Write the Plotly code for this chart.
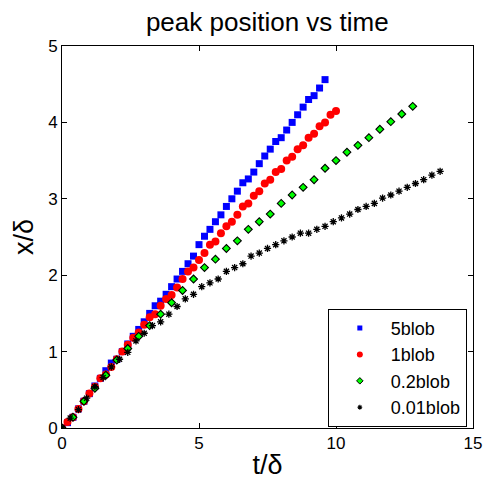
import plotly.graph_objects as go

# Peak position x/δ sampled against t/δ for each blob strength
t_5blob = [round(0.2 * k, 1) for k in range(49)]
x_5blob = [0, 0.07, 0.14, 0.25, 0.35, 0.45, 0.55, 0.65, 0.75, 0.85,
           0.90, 1.00, 1.10, 1.20, 1.29, 1.39, 1.50, 1.60, 1.66, 1.75,
           1.85, 1.95, 2.05, 2.15, 2.25, 2.40, 2.51, 2.60, 2.70, 2.79,
           2.90, 3.00, 3.10, 3.21, 3.26, 3.35, 3.46, 3.56, 3.65, 3.75,
           3.80, 3.90, 4.00, 4.10, 4.20, 4.30, 4.35, 4.45, 4.56]

t_1blob = [round(0.2 * k, 1) for k in range(51)]
x_1blob = [0, 0.08, 0.14, 0.25, 0.35, 0.45, 0.54, 0.65, 0.70, 0.80,
           0.90, 1.00, 1.09, 1.18, 1.25, 1.35, 1.45, 1.49, 1.60, 1.69,
           1.74, 1.84, 1.95, 2.05, 2.10, 2.20, 2.29, 2.40, 2.44, 2.55,
           2.64, 2.70, 2.79, 2.90, 2.94, 3.04, 3.10, 3.20, 3.25, 3.35,
           3.39, 3.50, 3.55, 3.65, 3.70, 3.80, 3.85, 3.95, 4.00, 4.10,
           4.15]

t_02blob = [round(0.4 * k, 1) for k in range(33)]
x_02blob = [0, 0.14, 0.35, 0.52, 0.69, 0.89, 1.04, 1.20, 1.34, 1.49,
            1.64, 1.80, 1.95, 2.10, 2.21, 2.35, 2.45, 2.60, 2.70, 2.80,
            2.94, 3.05, 3.15, 3.25, 3.40, 3.50, 3.61, 3.70, 3.80, 3.91,
            4.01, 4.11, 4.21]

t_001blob = [round(0.3 * k, 1) for k in range(47)]
x_001blob = [0, 0.13, 0.24, 0.39, 0.54, 0.66, 0.80, 0.90, 0.99, 1.14,
             1.24, 1.34, 1.39, 1.49, 1.59, 1.69, 1.75, 1.85, 1.90, 1.95,
             2.05, 2.10, 2.15, 2.25, 2.29, 2.35, 2.40, 2.45, 2.50, 2.55,
             2.55, 2.60, 2.64, 2.70, 2.75, 2.80, 2.86, 2.90, 2.94, 3.01,
             3.05, 3.10, 3.15, 3.20, 3.25, 3.31, 3.36]

x_ticks = [0, 5, 10, 15]
y_ticks = [0, 1, 2, 3, 4, 5]

FONT = "Liberation Sans, Arial, sans-serif"

series = [
    ("5blob", t_5blob, x_5blob,
     dict(symbol="square", size=7, color="#0000ff", line=dict(width=0)),
     dict(symbol="square", size=5, color="#0000ff", line=dict(width=0))),
    ("1blob", t_1blob, x_1blob,
     dict(symbol="circle", size=8, color="#ff0000", line=dict(width=0)),
     dict(symbol="circle", size=6, color="#ff0000", line=dict(width=0))),
    ("0.2blob", t_02blob, x_02blob,
     dict(symbol="diamond", size=6, color="#00ff00",
          line=dict(width=1.1, color="#000000")),
     dict(symbol="diamond", size=5, color="#00ff00",
          line=dict(width=1, color="#000000"))),
    ("0.01blob", t_001blob, x_001blob,
     dict(symbol="asterisk", size=6, color="#000000",
          line=dict(width=1.3, color="#000000")),
     dict(symbol="asterisk", size=4, color="#000000",
          line=dict(width=1.1, color="#000000"))),
]

fig = go.Figure()
for name, tx, xy, mk, _ in series:
    fig.add_trace(go.Scatter(x=tx, y=xy, mode="markers", name=name,
                             marker=mk, showlegend=False))
# Legend entries drawn with the smaller key markers
for name, _, _, _, key in series:
    fig.add_trace(go.Scatter(x=[None], y=[None], mode="markers", name=name,
                             marker=key, showlegend=True))

axis_common = dict(
    showgrid=False, zeroline=False, showline=True, linecolor="black",
    linewidth=1, mirror="ticks", ticks="inside", ticklen=5,
    tickcolor="black", automargin=False,
    tickfont=dict(family=FONT, size=17, color="black"),
)

fig.update_layout(
    width=486, height=483,
    margin=dict(l=62, r=13, t=46, b=55),
    paper_bgcolor="white", plot_bgcolor="white",
    title=dict(text="peak position vs time", x=0.55, xanchor="center",
               y=0.955, yanchor="middle",
               font=dict(family=FONT, size=26, color="black")),
    xaxis=dict(range=[0, 15], tickvals=x_ticks, **axis_common,
               title=dict(text="t/δ", standoff=2,
                          font=dict(family=FONT, size=27, color="black"))),
    yaxis=dict(range=[0, 5], tickvals=y_ticks, **axis_common,
               title=dict(text="x/δ", standoff=6,
                          font=dict(family=FONT, size=27, color="black"))),
    legend=dict(x=0.985, xanchor="right", y=0.003, yanchor="bottom",
                bgcolor="white", bordercolor="black", borderwidth=1,
                font=dict(family=FONT, size=18, color="black"),
                itemwidth=52, tracegroupgap=0),
    showlegend=True,
)

fig.write_html("out.html")
